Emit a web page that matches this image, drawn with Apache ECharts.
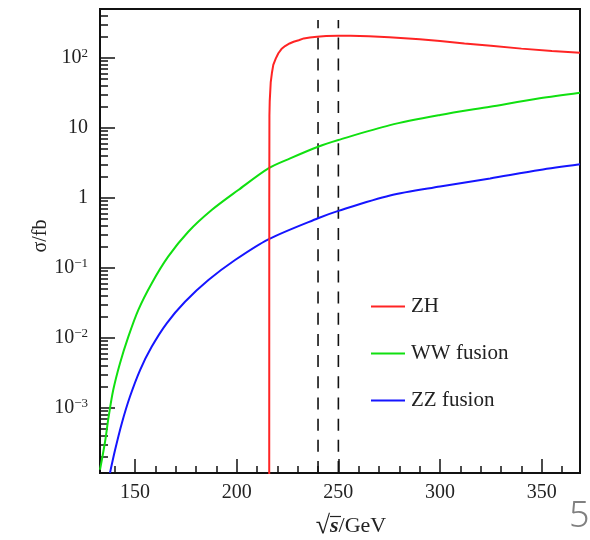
<!DOCTYPE html>
<html><head><meta charset="utf-8">
<script src="https://cdn.jsdelivr.net/npm/echarts@6/dist/echarts.min.js"></script>
<style>html,body{margin:0;padding:0;background:#fff}#c{width:590px;height:540px}</style>
</head><body><div id="c"></div>
<script>
// ---- data ----
const zhE = [216.0, 216.03, 216.1, 216.25, 216.75, 217.3, 218.0, 219.2, 220.5, 222.0, 223.8, 226.0, 228.0, 230.5, 233.0, 236.0, 239.5, 244.0, 250.0, 256.0, 265.0, 275.0, 290.0, 300.0, 312.0, 325.0, 340.0, 355.0, 368.8];
const zhSigma = [1.0e-4, 1.0, 15, 24, 45, 60, 79, 97, 116, 133, 147, 160, 169, 178, 189, 195, 200, 204, 206, 206, 203, 197, 184, 174, 160, 148, 135, 125, 118];

const wwE = [132.8, 135.3, 136.9, 139.3, 142.6, 146.7, 151.6, 158.2, 166.3, 176.2, 187.7, 200.8, 215.6, 226.3, 240.0, 250.0, 275.4, 300.0, 324.6, 349.0, 368.8];
const wwSigma = [1.3e-4, 3.3e-4, 7.0e-4, 1.79e-3, 4.3e-3, 0.0103, 0.0249, 0.0598, 0.144, 0.327, 0.667, 1.29, 2.63, 3.65, 5.35, 6.67, 10.9, 15.2, 20.0, 26.3, 31.6];

const zzE = [137.7, 140.2, 143.5, 147.5, 152.5, 158.2, 165.6, 174.6, 186.1, 199.2, 215.6, 240.0, 250.0, 275.4, 300.0, 324.6, 349.0, 368.8];
const zzSigma = [1.17e-4, 2.49e-4, 5.98e-4, 1.435e-3, 3.46e-3, 7.43e-3, 0.0161, 0.0327, 0.0667, 0.129, 0.255, 0.51, 0.65, 1.08, 1.45, 1.89, 2.49, 3.0];

const seriesNames = ['ZH', 'WW fusion', 'ZZ fusion'];
const refLinesE = [240, 250];
const refLineTop = 346;

const xMin = 132.8, xMax = 368.8;
const yMin = 1.17e-4, yMax = 497;

const xMajorTicks = [150, 200, 250, 300, 350];
const xMinorTicks = [140, 160, 170, 180, 190, 210, 220, 230, 240, 260, 270, 280, 290, 310, 320, 330, 340, 360];
const yMajorTicks = [1e-3, 1e-2, 1e-1, 1, 10, 100];
const yTickLabels = ['{b|10}{s|\u22123}', '{b|10}{s|\u22122}', '{b|10}{s|\u22121}', '{b|1}', '{b|10}', '{b|10}{s|2}'];
const yMinorTicks = [];
for (let p = -4; p <= 2; p++) for (let k = 2; k <= 9; k++) yMinorTicks.push(k * Math.pow(10, p));

// ---- chart ----
const FONT = 'Liberation Serif';
const TXT = '#222';
const zip = (a, b) => a.map((v, i) => [v, b[i]]);

const chart = echarts.init(document.getElementById('c'), null, {renderer: 'canvas'});
const colors = ['#ff2424', '#10e010', '#1515ff'];

const series = [
  {name: seriesNames[0], type: 'line', data: zip(zhE, zhSigma), symbol: 'none', smooth: false,
   lineStyle: {color: colors[0], width: 2}, itemStyle: {color: colors[0]}, clip: true, z: 5},
  {name: seriesNames[1], type: 'line', data: zip(wwE, wwSigma), symbol: 'none', smooth: 0.3,
   lineStyle: {color: colors[1], width: 2}, itemStyle: {color: colors[1]}, clip: true, z: 4},
  {name: seriesNames[2], type: 'line', data: zip(zzE, zzSigma), symbol: 'none', smooth: 0.3,
   lineStyle: {color: colors[2], width: 2}, itemStyle: {color: colors[2]}, clip: true, z: 4}
];
refLinesE.forEach((e, i) => {
  series.push({name: 'ref' + i, type: 'line', data: [[e, yMin], [e, refLineTop]], symbol: 'none',
    lineStyle: {color: '#111', width: 1.6, type: [12, 9.18]}, silent: true, z: 3});
});

const yLabelMap = {};
yMajorTicks.forEach((v, i) => { yLabelMap[Math.round(Math.log10(v))] = yTickLabels[i]; });

chart.setOption({
  animation: false,
  backgroundColor: '#fff',
  grid: {left: 100, right: 10, top: 9, bottom: 67, show: true, borderColor: '#111', borderWidth: 2,
         backgroundColor: 'transparent', containLabel: false, outerBoundsMode: 'none'},
  legend: {
    data: seriesNames, orient: 'vertical', left: 371, top: 295, padding: 0,
    icon: 'rect', itemWidth: 34, itemHeight: 2, itemGap: 24,
    textStyle: {fontFamily: FONT, fontSize: 21, color: TXT, lineHeight: 23, padding: [0, 0, 0, 1]}
  },
  xAxis: [
    {type: 'value', min: xMin, max: xMax, position: 'bottom',
     axisLine: {show: true, onZero: false, lineStyle: {color: '#111', width: 2}},
     axisTick: {show: true, inside: true, length: 14, customValues: xMajorTicks, lineStyle: {color: '#111', width: 1.5}},
     axisLabel: {customValues: xMajorTicks, fontFamily: FONT, fontSize: 20, color: TXT, margin: 10},
     splitLine: {show: false},
     name: '{r|\u221A}{s|s}{g|/GeV}', nameLocation: 'middle', nameGap: 40, nameMoveOverlap: false,
     nameTextStyle: {padding: [0, 0, 0, 22], rich: {
       r: {fontFamily: FONT, fontSize: 26, color: TXT},
       s: {fontFamily: FONT, fontSize: 22, fontStyle: 'italic', fontWeight: 'bold', color: TXT},
       g: {fontFamily: FONT, fontSize: 22, color: TXT}}}},
    {type: 'value', min: xMin, max: xMax, position: 'bottom',
     axisLine: {show: false}, axisLabel: {show: false}, splitLine: {show: false},
     axisTick: {show: true, inside: true, length: 7, customValues: xMinorTicks, lineStyle: {color: '#111', width: 1.5}}}
  ],
  yAxis: [
    {type: 'log', logBase: 10, min: yMin, max: yMax, position: 'left',
     axisLine: {show: true, onZero: false, lineStyle: {color: '#111', width: 2}},
     axisTick: {show: true, inside: true, length: 15, customValues: yMajorTicks, lineStyle: {color: '#111', width: 1.5}},
     axisLabel: {customValues: yMajorTicks, margin: 12,
       formatter: v => yLabelMap[Math.round(Math.log10(v))] || '',
       rich: {b: {fontFamily: FONT, fontSize: 20, color: TXT, lineHeight: 22},
              s: {fontFamily: FONT, fontSize: 13, color: TXT, lineHeight: 13, verticalAlign: 'top'}}},
     splitLine: {show: false},
     name: '\u03C3/fb', nameLocation: 'middle', nameGap: 49, nameRotate: 90, nameMoveOverlap: false,
     nameTextStyle: {fontFamily: FONT, fontSize: 20, color: TXT, padding: [0, 0, 0, 10]}},
    {type: 'log', logBase: 10, min: yMin, max: yMax, position: 'left',
     axisLine: {show: false}, axisLabel: {show: false}, splitLine: {show: false},
     axisTick: {show: true, inside: true, length: 8, customValues: yMinorTicks, lineStyle: {color: '#111', width: 1.5}}}
  ],
  series: series,
  graphic: [
    {type: 'line', shape: {x1: 330, y1: 516.5, x2: 341, y2: 516.5}, style: {stroke: TXT, lineWidth: 1.2}, silent: true},
    {type: 'text', left: 569, top: 499, style: {text: '5', fontFamily: 'Noto Sans', fontWeight: 300, fontSize: 36, fill: '#808080'}}
  ]
});
</script></body></html>
